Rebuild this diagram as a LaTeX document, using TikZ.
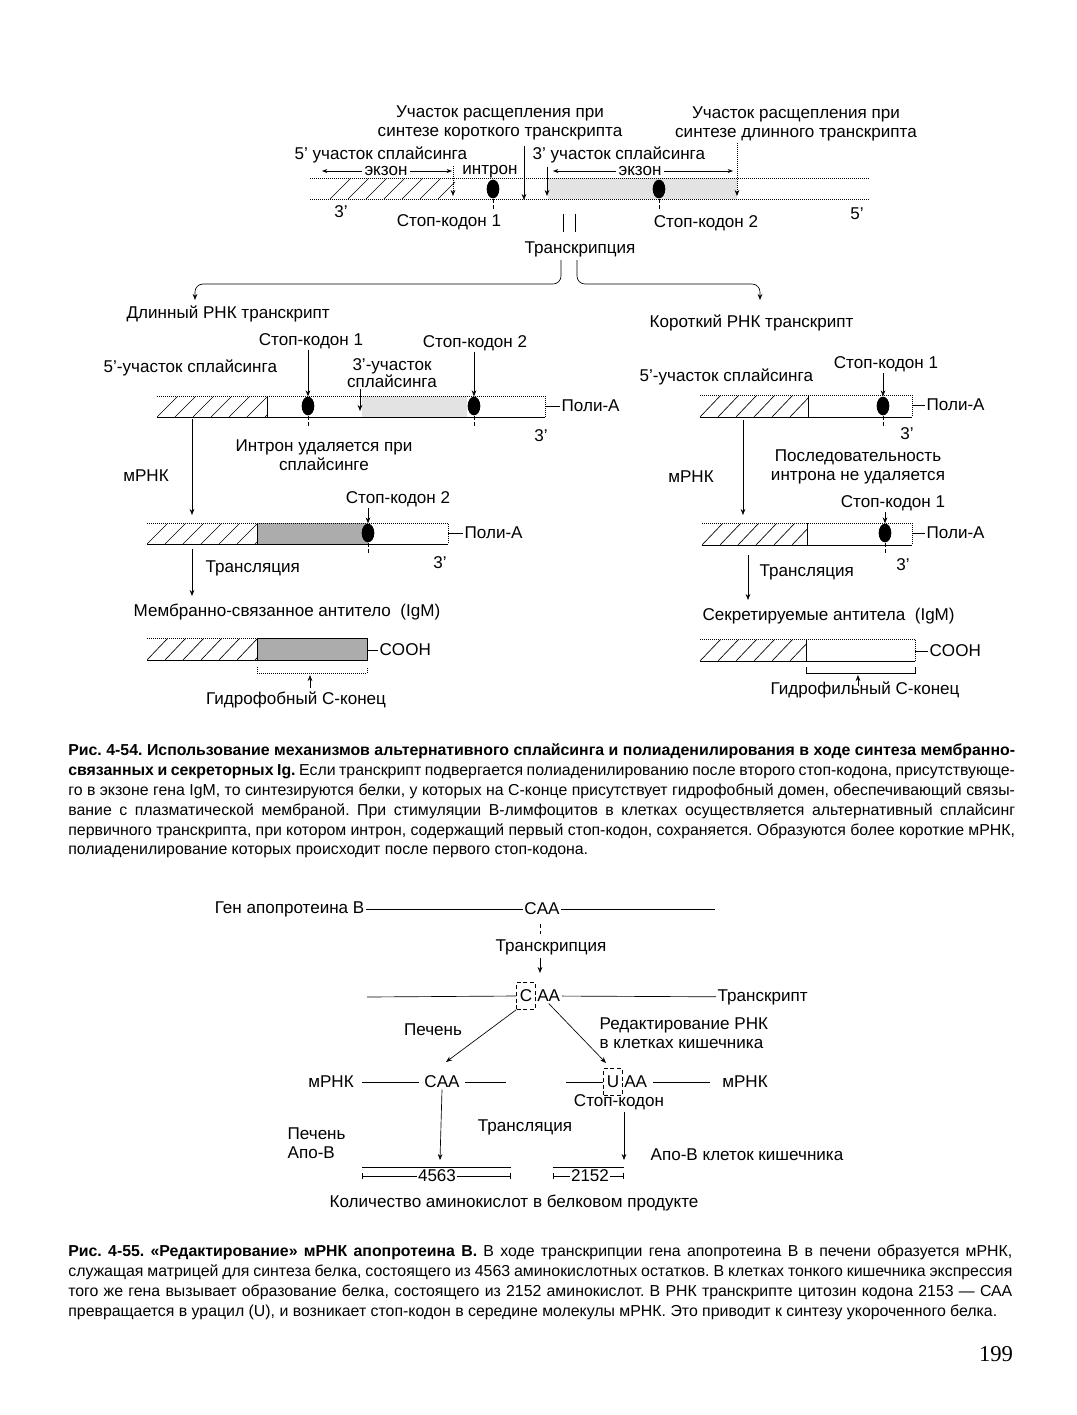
\documentclass[tikz,border=0pt]{standalone}
\usepackage{fontspec}
\setmainfont{Liberation Sans}
\newfontfamily\numfont{Liberation Serif}
\usetikzlibrary{arrows.meta,shapes.geometric}
\frenchspacing
\newcommand\lblfont{\fontsize{12.8}{14.6}\selectfont}
\newcommand\capfont{\fontsize{11.9}{14}\selectfont}
\newcommand\hatchbox[4]{%
  \begin{scope}
    \clip (#1,#2) rectangle (#3,#4);
    \foreach \hx in {0,18,...,216}
      \draw (#1+\hx,#4) -- ++(21,#2-#4);
  \end{scope}}
\begin{document}
\begin{tikzpicture}[x=0.75pt, y=-0.75pt, line width=0.5pt,
  lbl/.style={font=\lblfont, inner sep=1pt},
  arr/.style={-{Stealth[length=4.5pt,width=3.5pt]}},
  codon/.style={ellipse, fill=black, minimum width=9.5pt, minimum height=14pt, inner sep=0pt},
  capl/.style={font=\capfont, anchor=base west, inner sep=0pt}]
\useasboundingbox (0,0) rectangle (1077,1415);

% ---- primary transcript
\node[lbl, align=center] (cutS) at (500,123) {Участок расщепления при\\синтезе короткого транскрипта};
\node[lbl, align=center] (cutL) at (796,124) {Участок расщепления при\\синтезе длинного транскрипта};
\node[lbl, anchor=west] (ss5) at (293,155) {5' участок сплайсинга};
\node[lbl, anchor=west] (ss3) at (531,155) {3' участок сплайсинга};
\fill[gray!22] (548,178) rectangle (737,199);
\hatchbox{330}{178}{455}{199}
\draw[densely dotted] (310,178) -- (870,178);
\draw[densely dotted] (310,199) -- (870,199);
\node[codon] (g1) at (493,189) {};
\node[codon] (g2) at (659,189) {};
\draw[densely dashed] (g1.south) -- ++(0,12);
\draw[densely dashed] (g2.south) -- ++(0,12);
\draw[<->, >={Stealth[length=4pt,width=3pt]}] (322,171) -- (452,171);
\node[lbl, fill=white, inner xsep=2pt] (ex1) at (386,171) {экзон};
\draw[<->, >={Stealth[length=4pt,width=3pt]}] (553,171) -- (733,171);
\node[lbl, fill=white, inner xsep=2pt] (ex2) at (640,171) {экзон};
\node[lbl] (intr) at (490,172) {интрон};
\draw[arr, densely dotted] (453,166) -- (453,196);
\draw[arr] (524,146) -- (524,200);
\draw[arr] (547,167) -- (547,196);
\draw[arr, densely dotted] (cutL.south -| 737,0) -- (737,196);
\node[lbl] (e3) at (341,212) {3'};
\node[lbl] (e5) at (857,214) {5'};
\node[lbl] (sc1) at (449,222) {Стоп-кодон 1};
\node[lbl] (sc2) at (706,223) {Стоп-кодон 2};
\draw (563,214) -- (563,232);
\draw (575,214) -- (575,232);
\node[lbl] (trs) at (580,249) {Транскрипция};
\draw[arr, rounded corners=6pt] (561,260) |- (195,284) -- (195,300);
\draw[arr, rounded corners=6pt] (577,260) |- (760,284) -- (760,300);

% ---- long transcript
\node[lbl, anchor=west] (longT) at (125,314) {Длинный РНК транскрипт};
\node[lbl] (sc1a) at (311,341) {Стоп-кодон 1};
\node[lbl] (sc2a) at (475,343) {Стоп-кодон 2};
\node[lbl, anchor=west] (ss5a) at (102,368) {5'-участок сплайсинга};
\node[lbl, align=center, font=\fontsize{12.8}{11.5}\selectfont] (ss3a) at (392,373) {3'-участок\\сплайсинга};
\fill[gray!22] (362,396) rectangle (467,417);
\hatchbox{157}{396}{267}{417}
\draw (267,396) -- (267,417);
\draw[densely dotted] (157,396) -- (545,396) -- (545,417);
\draw (157,417) -- (545,417);
\node[codon] (a1) at (308,406) {};
\node[codon] (a2) at (474,406) {};
\draw[arr] (sc1a.south -| a1) -- (a1.north);
\draw[arr] (sc2a.south -| a2) -- (a2.north);
\draw[arr] (ss3a.south -| 360,0) -- (360,411);
\draw[densely dashed] (a1.south) -- ++(0,12);
\draw[densely dashed] (a2.south) -- ++(0,12);
\node[lbl, anchor=west] (pa1) at (560,406) {Поли-А};
\draw (545,406) -- (pa1.west);
\node[lbl] (a3) at (541,436) {3'};
\node[lbl, align=center] (intDel) at (324,455) {Интрон удаляется при\\сплайсинге};
\node[lbl] (mr1) at (146,476) {мРНК};
\draw[arr] (192,419) -- (192,515);

\node[lbl] (sc2b) at (398,499) {Стоп-кодон 2};
\fill[gray!65] (257,523) rectangle (368,544);
\hatchbox{147}{523}{257}{544}
\draw (257,523) -- (257,544);
\draw[densely dotted] (147,523) -- (448,523) -- (448,544);
\draw (147,544) -- (448,544);
\node[codon] (b1) at (368,533) {};
\draw[arr] (sc2b.south -| b1) -- (b1.north);
\draw[densely dashed] (b1.south) -- ++(0,12);
\node[lbl, anchor=west] (pa2) at (463,533) {Поли-А};
\draw (448,533) -- (pa2.west);
\node[lbl] (b3) at (440,563) {3'};
\draw[arr] (192,549) -- (192,596);
\node[lbl, anchor=west] (trl1) at (204,568) {Трансляция};
\node[lbl] (memAb) at (287,612) {Мембранно-связанное антитело~~(IgM)};
\fill[gray!65] (257,638) rectangle (367,660);
\hatchbox{147}{638}{257}{660}
\draw (257,638) -- (257,660);
\draw[densely dotted] (147,638) -- (257,638);
\draw (147,660) -- (367,660) -- (367,638) -- (257,638);
\node[lbl, anchor=west] (cooh1) at (378,650) {COOH};
\draw (367,650) -- (cooh1.west);
\draw[densely dotted] (257,667) -- (257,673) -- (367,673) -- (367,667);
\draw[arr] (310,688) -- (310,675);
\node[lbl] (hyd1) at (296,700) {Гидрофобный С-конец};

% ---- short transcript
\node[lbl, anchor=west] (shortT) at (648,323) {Короткий РНК транскрипт};
\node[lbl] (sc1c) at (886,364) {Стоп-кодон 1};
\node[lbl, anchor=west] (ss5c) at (638,377) {5'-участок сплайсинга};
\hatchbox{700}{395}{808}{417}
\draw (808,395) -- (808,417);
\draw[densely dotted] (700,395) -- (912,395) -- (912,417);
\draw (700,417) -- (912,417);
\node[codon] (c1) at (883,406) {};
\draw[arr] (sc1c.south -| c1) -- (c1.north);
\draw[densely dashed] (c1.south) -- ++(0,10);
\node[lbl, anchor=west] (pa3) at (925,405) {Поли-А};
\draw (912,405) -- (pa3.west);
\node[lbl] (c3) at (907,434) {3'};
\draw[arr] (743,420) -- (743,515);
\node[lbl] (mr2) at (691,477) {мРНК};
\node[lbl, align=center] (intKeep) at (858,467) {Последовательность\\интрона не удаляется};
\node[lbl] (sc1d) at (893,503) {Стоп-кодон 1};
\hatchbox{702}{523}{807}{545}
\draw (807,523) -- (807,545);
\draw[densely dotted] (702,523) -- (912,523) -- (912,545);
\draw (702,545) -- (912,545);
\node[codon] (d1) at (885,533) {};
\draw[arr] (sc1d.south -| d1) -- (d1.north);
\draw[densely dashed] (d1.south) -- ++(0,10);
\node[lbl, anchor=west] (pa4) at (925,533) {Поли-А};
\draw (912,533) -- (pa4.west);
\node[lbl] (d3) at (903,565) {3'};
\draw[arr] (748,555) -- (748,600);
\node[lbl, anchor=west] (trl2) at (758,572) {Трансляция};
\node[lbl, anchor=west] (secAb) at (701,616) {Секретируемые антитела~~(IgM)};
\hatchbox{700}{639}{806}{661}
\draw (806,639) -- (806,661);
\draw[densely dotted] (700,639) -- (915,639) -- (915,661);
\draw (700,661) -- (915,661);
\node[lbl, anchor=west] (cooh2) at (928,651) {COOH};
\draw (915,651) -- (cooh2.west);
\draw (806,667) -- (806,673) -- (915,673) -- (915,667);
\draw[arr] (858,686) -- (858,675);
\node[lbl] (hyd2) at (865,690) {Гидрофильный С-конец};

% ---- caption 4-54
\node[capl] (c54a) at (68,755) {\makebox[710pt][s]{\bfseries Рис. 4-54. Использование механизмов альтернативного сплайсинга и полиаденилирования в ходе синтеза мембранно-}};
\node[capl] (c54b) at (68,775) {\makebox[710pt][s]{\textbf{связанных и секреторных Ig.} Если транскрипт подвергается полиаденилированию после второго стоп-кодона, присутствующе-}};
\node[capl] (c54c) at (68,795) {\makebox[710pt][s]{го в экзоне гена IgM, то синтезируются белки, у которых на С-конце присутствует гидрофобный домен, обеспечивающий связы-}};
\node[capl] (c54d) at (68,815) {\makebox[710pt][s]{вание с плазматической мембраной. При стимуляции В-лимфоцитов в клетках осуществляется альтернативный сплайсинг}};
\node[capl] (c54e) at (68,835) {\makebox[710pt][s]{первичного транскрипта, при котором интрон, содержащий первый стоп-кодон, сохраняется. Образуются более короткие мРНК,}};
\node[capl] (c54f) at (68,854) {полиаденилирование которых происходит после первого стоп-кодона.};

% ---- apoprotein B
\node[lbl, anchor=east] (gene) at (366,909) {Ген апопротеина В};
\node[lbl] (caa0) at (542,909) {CAA};
\coordinate (geneEnd) at (715,909);
\draw (gene) -- (caa0);
\draw (caa0) -- (geneEnd);
\draw[densely dashed] (540,924) -- (540,934);
\node[lbl] (trs2) at (551,947) {Транскрипция};
\draw[arr] (540,958) -- (540,973);
\node[lbl, draw, densely dashed, minimum width=14pt, minimum height=20pt, inner sep=1pt] (cbox) at (526,996) {C};
\node[lbl, anchor=west] (aa1) at (cbox.east) {AA};
\node[lbl, anchor=west] (trpt) at (716,997) {Транскрипт};
\coordinate (trStart) at (367,997);
\draw (trStart) -- (cbox.west);
\draw (aa1) -- (trpt);
\node[lbl] (liv1) at (433,1030) {Печень};
\node[lbl, align=left, anchor=west] (edit) at (598,1033) {Редактирование РНК\\в клетках кишечника};
\node[lbl] (mr3) at (331,1082) {мРНК};
\node[lbl] (caa2) at (442,1082) {CAA};
\coordinate (m3end) at (506,1082);
\draw[shorten <=5pt, shorten >=3pt] (mr3) -- (caa2);
\draw[shorten <=3pt] (caa2) -- (m3end);
\node[lbl, draw, densely dashed, minimum width=14pt, minimum height=20pt, inner sep=1pt] (ubox) at (613,1082) {U};
\node[lbl, anchor=west] (aa2) at (ubox.east) {AA};
\node[lbl] (mr4) at (745,1082) {мРНК};
\coordinate (m4start) at (566,1082);
\draw (m4start) -- (ubox.west);
\draw[shorten <=3pt, shorten >=8pt] (aa2) -- (mr4);
\draw[arr] (cbox.south west) -- (446,1062);
\draw[arr] (aa1.south) -- (606,1063);
\node[lbl] (stop) at (619,1102) {Стоп-кодон};
\draw[arr] (caa2.south) -- (440,1160);
\draw[arr] (624,1112) -- (624,1160);
\node[lbl] (trl3) at (525,1127) {Трансляция};
\node[lbl, align=left, anchor=west] (liv2) at (286,1143) {Печень\\Апо-В};
\node[lbl, anchor=west] (apoI) at (649,1155) {Апо-В клеток кишечника};
\draw (362,1167) -- (511,1167);
\draw[|-|] (362,1176) -- (511,1176);
\node[lbl, fill=white, inner sep=1pt] (n4563) at (437,1176) {4563};
\draw (553,1167) -- (624,1167);
\draw[|-|] (553,1176) -- (624,1176);
\node[lbl, fill=white, inner sep=1pt] (n2152) at (590,1176) {2152};
\node[lbl] (aminoN) at (514,1203) {Количество аминокислот в белковом продукте};

% ---- caption 4-55
\node[capl] (c55a) at (68,1256) {\makebox[708pt][s]{\textbf{Рис. 4-55. «Редактирование» мРНК апопротеина В.} В ходе транскрипции гена апопротеина В в печени образуется мРНК,}};
\node[capl] (c55b) at (68,1276) {\makebox[708pt][s]{служащая матрицей для синтеза белка, состоящего из 4563 аминокислотных остатков. В клетках тонкого кишечника экспрессия}};
\node[capl] (c55c) at (68,1296) {\makebox[708pt][s]{того же гена вызывает образование белка, состоящего из 2152 аминокислот. В РНК транскрипте цитозин кодона 2153 — САА}};
\node[capl] (c55d) at (68,1316) {превращается в урацил (U), и возникает стоп-кодон в середине молекулы мРНК. Это приводит к синтезу укороченного белка.};

\node[font=\numfont\fontsize{17}{20}\selectfont] (pg) at (996,1354) {199};
\end{tikzpicture}
\end{document}
